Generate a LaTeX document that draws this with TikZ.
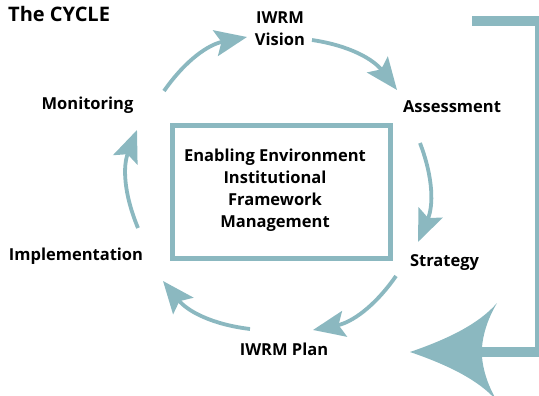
\documentclass[tikz,border=0pt]{standalone}
\usepackage{fontspec}
\setmainfont{Open Sans}
\usetikzlibrary{arrows.meta,positioning,calc}
\definecolor{cycleteal}{RGB}{139,184,192}

\begin{document}
\begin{tikzpicture}[
  x=1pt, y=1pt,
  font=\bfseries\fontsize{16.5}{22}\selectfont,
  lbl/.style={inner sep=0pt, align=center},
  frame/.style={draw=cycleteal, line width=5pt, minimum width=218pt, minimum height=132pt, align=center, inner sep=0pt},
  arr/.style={cycleteal, line width=3.8pt, -{Stealth[length=32pt, width=26pt, inset=6pt]}},
  feed/.style={cycleteal, line width=10pt}
]
\useasboundingbox (0,0) rectangle (539,-396);
\clip (0,0) rectangle (539,-396);

% stage labels
\node[lbl, anchor=base west, font=\bfseries\fontsize{20}{24}\selectfont] (title) at (8,-22) {The CYCLE};
\node[lbl, anchor=north] (vision) at (280,-12) {IWRM\\Vision};
\node[lbl, anchor=base] (assess) at (452,-113) {Assessment};
\node[lbl, anchor=base] (strat) at (444.5,-266) {Strategy};
\node[lbl, anchor=base] (plan) at (284,-355) {IWRM Plan};
\node[lbl, anchor=base] (impl) at (76,-260) {Implementation};
\node[lbl, anchor=base] (monit) at (87.5,-110) {Monitoring};
\node[frame] (env) at (281,-192) {};
\node[lbl] (envtext) at (275,-190) {Enabling Environment\\Institutional\\Framework\\Management};

% ends of the cycle arcs
\coordinate (a1) at (164,-91);  \coordinate (b1) at (247,-37);
\coordinate (a2) at (312,-40);  \coordinate (b2) at (397,-90);
\coordinate (a3) at (420,-143); \coordinate (b3) at (418,-242);
\coordinate (a4) at (396,-276); \coordinate (b4) at (313,-330);
\coordinate (a5) at (250,-329); \coordinate (b5) at (163,-281);
\coordinate (a6) at (138,-228); \coordinate (b6) at (137,-130);
\draw[arr] (a1) to[bend left=22] (b1);
\draw[arr] (a2) to[bend left=22] (b2);
\draw[arr] (a3) to[bend left=22] (b3);
\draw[arr] (a4) to[bend left=22] (b4);
\draw[arr] (a5) to[bend left=22] (b5);
\draw[arr] (a6) to[bend left=22] (b6);

% feedback loop back into the plan
\coordinate (feedin) at (472,-21);
\coordinate (notch) at (482,-352);
\coordinate (tip) at (410,-352);
\draw[feed] (feedin) -- (540,-21) -- (540,-352) -- (notch);
\fill[cycleteal] (tip) .. controls (445,-340) and (478,-325) .. (497,-303)
  .. controls (487,-320) and (483,-335) .. (482,-347) -- (482,-357)
  .. controls (483,-369) and (487,-384) .. (497,-401)
  .. controls (478,-379) and (445,-364) .. (tip) -- cycle;
\end{tikzpicture}
\end{document}
